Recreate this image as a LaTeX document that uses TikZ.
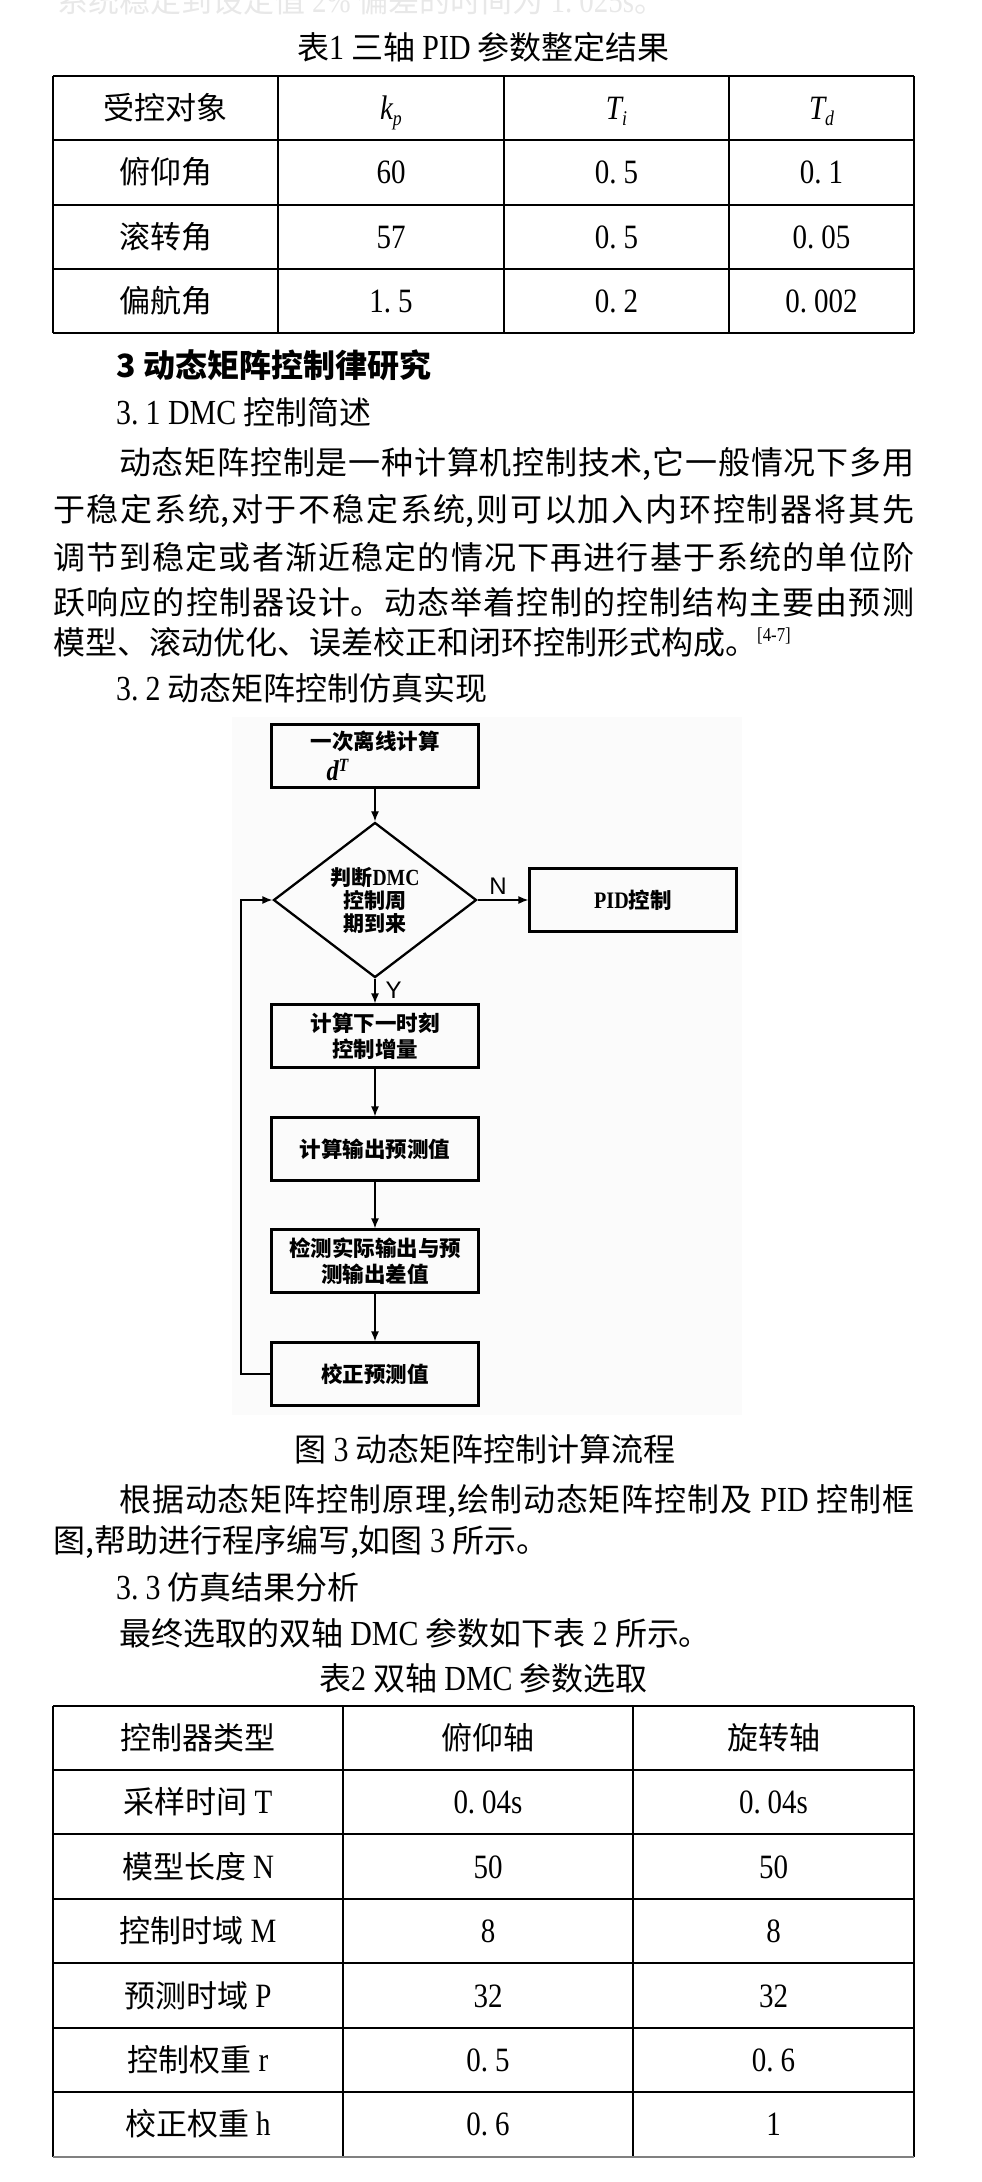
\documentclass[tikz,border=0pt]{standalone}
\usepackage{fontspec}
\setmainfont{Noto Sans CJK SC}
\newfontfamily\latfont[FakeStretch=0.85,Scale=1.1]{Liberation Serif}
\newfontfamily\arialfont{Liberation Sans}
\usetikzlibrary{shapes.geometric,arrows.meta}
\XeTeXlinebreaklocale "zh"
\XeTeXlinebreakskip=0pt plus 6pt minus 2pt
\tolerance=9999
\newcommand\lat[1]{{\latfont #1}}
\newcommand\fs[1]{\fontsize{#1}{#1}\selectfont}
\newcommand\dt{.\kern7pt}
\newcommand\jline[2]{\parbox{#1}{\parindent=0pt\parfillskip=0pt #2}}
\newcommand\kp{\lat{\itshape k\raisebox{-6pt}{\fs{19}p}}}
\newcommand\Ti{\lat{\itshape T\raisebox{-6pt}{\fs{19}i}}}
\newcommand\Td{\lat{\itshape T\raisebox{-6pt}{\fs{19}d}}}
\newcommand\dT{{\fs{26}\latfont\bfseries\itshape d\raisebox{9pt}{\fs{17}T}}}

\begin{document}
\begin{tikzpicture}[
  x=1pt,
  y=-1pt,
  body/.style={
    anchor=base west,
    inner sep=0,
    font=\fs{32}
  },
  title/.style={
    anchor=base,
    inner sep=0,
    font=\fs{32}
  },
  cell/.style={
    anchor=base,
    inner sep=0,
    font=\fs{31}
  },
  grid/.style={
    line width=1.2pt
  },
  box/.style={
    draw,
    line width=2.3pt,
    minimum width=207pt,
    minimum height=63pt,
    inner sep=0,
    font=\bfseries\fontsize{21.5}{26}\selectfont
  },
  decision/.style={
    diamond,
    draw,
    line width=2.3pt,
    minimum width=203pt,
    minimum height=118pt,
    inner sep=0,
    align=center,
    font=\bfseries\fontsize{21}{23}\selectfont
  },
  flow/.style={
    line width=1.3pt,
    -{Latex[length=10pt,width=8pt]}
  },
  yn/.style={
    font=\arialfont\fs{24},
    inner sep=0
  },
]
\useasboundingbox (0,0) rectangle (982,2182);

% cut line from the page above
\node[body, font=\fs{31}, text=black!9] (prev) at (57,12)
  {系统稳定到设定值 \lat{2\%} 偏差的时间为 \lat{1\dt025s}。};

% table 1
\node[title] (cap1) at (483.5,59) {表\lat{1} 三轴 \lat{PID} 参数整定结果};
\foreach \x in {53,278,504,729,914}
  \draw[grid] (\x,76) -- (\x,333);
\foreach \y in {76,140,205,269,333}
  \draw[grid] (53,\y) -- (914,\y);
\foreach \a/\b/\c/\d [count=\i from 0] in {
  受控对象/\kp/\Ti/\Td,
  俯仰角/60/0\dt5/0\dt1,
  滚转角/57/0\dt5/0\dt05,
  偏航角/1\dt5/0\dt2/0\dt002}{
  \pgfmathsetmacro\yy{119.5+64.33*\i}
  \node[cell] (pa-\i-1) at (165.5,\yy) {\a};
  \node[cell] (pa-\i-2) at (391,\yy) {\lat{\b}};
  \node[cell] (pa-\i-3) at (616.5,\yy) {\lat{\c}};
  \node[cell] (pa-\i-4) at (821.5,\yy) {\lat{\d}};
}

% section 3
\node[body, font=\bfseries\fs{32}] (sec3) at (116,377) {3 动态矩阵控制律研究};
\node[body] (sec31) at (116,424) {\lat{3\dt1 DMC} 控制简述};
\node[body] (par1a) at (119,470)
  {\jline{795pt}{动态矩阵控制是一种计算机控制技术,它一般情况下多用}};
\node[body] (par1b) at (53,517)
  {\jline{861pt}{于稳定系统,对于不稳定系统,则可以加入内环控制器将其先}};
\node[body] (par1c) at (53,564)
  {\jline{861pt}{调节到稳定或者渐近稳定的情况下再进行基于系统的单位阶}};
\node[body] (par1d) at (53,609)
  {\jline{861pt}{跃响应的控制器设计。动态举着控制的控制结构主要由预测}};
\node[body] (par1e) at (53,654)
  {模型、滚动优化、误差校正和闭环控制形式构成。\raisebox{13pt}{\fs{18}\lat{[4-7]}}};
\node[body] (sec32) at (116,700) {\lat{3\dt2} 动态矩阵控制仿真实现};

% figure 3
\fill[black!1.5] (232,717) rectangle (742,1415);
\node[box, align=left] (calc) at (375,756) {一次离线计算\\[5pt]\hspace*{16pt}\dT};
\node[decision] (dec) at (375,900) {判断\lat{DMC}\\控制周\\期到来};
\node[box] (pid) at (633,900) {\lat{PID}控制};
\node[box, align=center] (incr) at (375,1036) {计算下一时刻\\控制增量};
\node[box] (pred) at (375,1149) {计算输出预测值};
\node[box, align=center] (err) at (375,1261) {检测实际输出与预\\测输出差值};
\node[box] (corr) at (375,1374) {校正预测值};
\coordinate (back) at (241,1374);

\draw[flow] (calc) -- (dec);
\draw[flow] (dec) -- node[yn, pos=0.4, above=5pt] {N} (pid);
\draw[flow] (dec) -- node[yn, pos=0.45, right=10pt] {Y} (incr);
\draw[flow] (incr) -- (pred);
\draw[flow] (pred) -- (err);
\draw[flow] (err) -- (corr);
\draw[flow] (corr.west) -- (back) |- (dec.west);

\node[title] (cap3) at (485,1461) {图 \lat{3} 动态矩阵控制计算流程};

% after figure
\node[body] (par2a) at (119,1507)
  {\jline{795pt}{根据动态矩阵控制原理,绘制动态矩阵控制及 \lat{PID} 控制框}};
\node[body] (par2b) at (53,1552) {图,帮助进行程序编写,如图 \lat{3} 所示。};
\node[body] (sec33) at (116,1599) {\lat{3\dt3} 仿真结果分析};
\node[body] (par3) at (119,1645) {最终选取的双轴 \lat{DMC} 参数如下表 \lat{2} 所示。};

% table 2
\node[title] (cap2) at (483.5,1690) {表\lat{2} 双轴 \lat{DMC} 参数选取};
\foreach \x in {53,343,633,914}
  \draw[grid] (\x,1706) -- (\x,2157);
\foreach \y in {1706,1770,1834,1899,1963,2028,2092}
  \draw[grid] (53,\y) -- (914,\y);
\draw[grid, black!50] (53,2157) -- (914,2157);
\foreach \a/\b/\c [count=\i from 0] in {
  控制器类型/俯仰轴/旋转轴,
  采样时间 \lat{T}/\lat{0\dt04s}/\lat{0\dt04s},
  模型长度 \lat{N}/\lat{50}/\lat{50},
  控制时域 \lat{M}/\lat{8}/\lat{8},
  预测时域 \lat{P}/\lat{32}/\lat{32},
  控制权重 \lat{r}/\lat{0\dt5}/\lat{0\dt6},
  校正权重 \lat{h}/\lat{0\dt6}/\lat{1}}{
  \pgfmathsetmacro\yy{1749.5+64.4*\i}
  \node[cell] (dm-\i-1) at (198,\yy) {\a};
  \node[cell] (dm-\i-2) at (488,\yy) {\b};
  \node[cell] (dm-\i-3) at (773.5,\yy) {\c};
}
\end{tikzpicture}
\end{document}
